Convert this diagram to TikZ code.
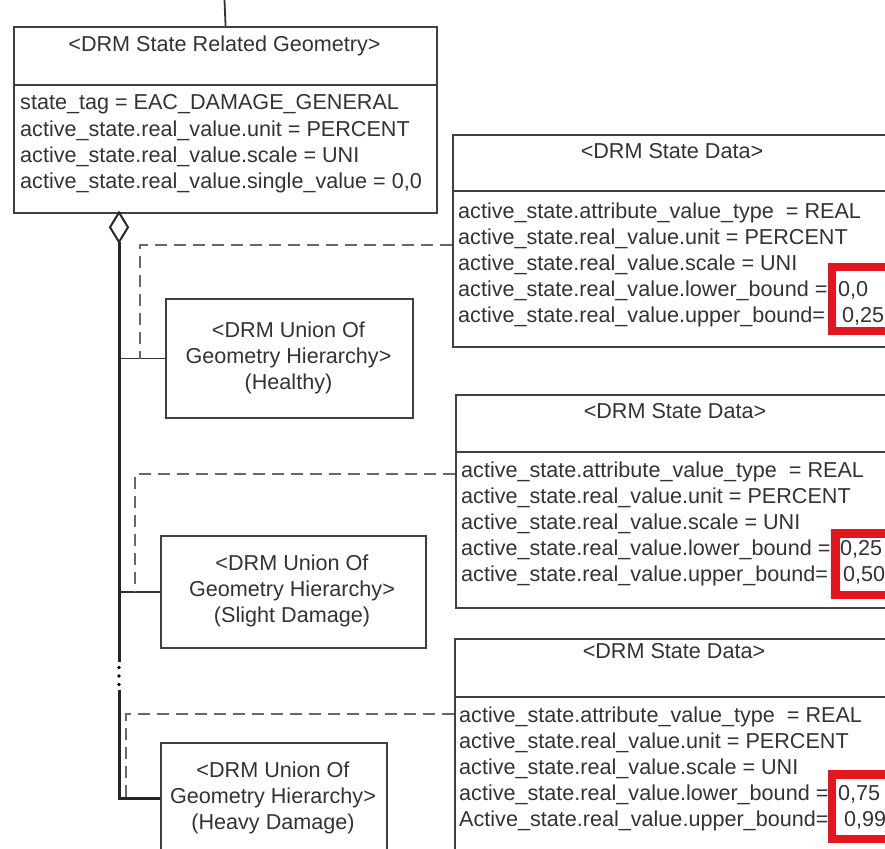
\documentclass[tikz,border=0pt]{standalone}
\usepackage{fontspec}
\setmainfont{Liberation Sans}
\definecolor{txt}{HTML}{333333}
\definecolor{bord}{HTML}{404040}
\definecolor{dashc}{HTML}{686868}
\definecolor{redbox}{HTML}{E3161F}
\begin{document}
\begin{tikzpicture}[x=1pt,y=-1pt,
  lbl/.style={text=txt, font=\fontsize{21.6}{26}\selectfont, inner sep=0pt, anchor=base west},
  ctr/.style={text=txt, font=\fontsize{21.6}{26}\selectfont, inner sep=0pt, anchor=base},
  classbox/.style={draw=bord, line width=2.1pt, fill=white, inner sep=0pt, anchor=north west},
  sepline/.style={draw=bord, line width=2.1pt},
  spine/.style={draw=black!85, line width=3pt},
  link/.style={draw=black!80, line width=1.8pt},
  dashline/.style={draw=dashc, line width=2.2pt, dash pattern=on 12pt off 7pt},
  hilite/.style={draw=redbox, line width=8.5pt}]
\useasboundingbox (0,0) rectangle (885,848);
\clip (0,0) rectangle (885,848);
\fill[white] (0,0) rectangle (885,848);

% ---- top class box
\node[classbox, minimum width=423, minimum height=186] (srg) at (13,26) {};
\coordinate (topend) at (224.5,0);
\draw[link] (topend) -- (srg.north);
\node[ctr] (srgh) at (224.5,52) {<DRM State Related Geometry>};
\draw[sepline] (13,85) -- (436,85);
\node[lbl] (s1) at (20,110) {state\_tag = EAC\_DAMAGE\_GENERAL};
\node[lbl] (s2) at (20,136) {active\_state.real\_value.unit = PERCENT};
\node[lbl] (s3) at (20,162) {active\_state.real\_value.scale = UNI};
\node[lbl] (s4) at (20,188) {active\_state.real\_value.single\_value = 0,0};

% ---- state data boxes
\node[classbox, minimum width=441, minimum height=212] (sd1) at (452,134) {};
\node[ctr] (sd1h) at (672,158) {<DRM State Data>};
\draw[sepline] (452,191) -- (900,191);
\node[lbl] (a1) at (458,218) {active\_state.attribute\_value\_type~ = REAL};
\node[lbl] (a2) at (458,244) {active\_state.real\_value.unit = PERCENT};
\node[lbl] (a3) at (458,270) {active\_state.real\_value.scale = UNI};
\node[lbl] (a4) at (458,296) {active\_state.real\_value.lower\_bound =};
\node[lbl] (a5) at (458,322) {active\_state.real\_value.upper\_bound=};
\node[lbl] (a4v) at (838,296) {0,0};
\node[lbl] (a5v) at (842,322) {0,25};
\draw[hilite] (832,267) rectangle (900,331);

\node[classbox, minimum width=441, minimum height=213] (sd2) at (455,394) {};
\node[ctr] (sd2h) at (675,418) {<DRM State Data>};
\draw[sepline] (455,452) -- (900,452);
\node[lbl] (b1) at (461,477) {active\_state.attribute\_value\_type~ = REAL};
\node[lbl] (b2) at (461,503) {active\_state.real\_value.unit = PERCENT};
\node[lbl] (b3) at (461,529) {active\_state.real\_value.scale = UNI};
\node[lbl] (b4) at (461,555) {active\_state.real\_value.lower\_bound =};
\node[lbl] (b5) at (461,581) {active\_state.real\_value.upper\_bound=};
\node[lbl] (b4v) at (840,555) {0,25};
\node[lbl] (b5v) at (843,581) {0,50};
\draw[hilite] (835.5,533.5) rectangle (900,595);

\node[classbox, minimum width=441, minimum height=230] (sd3) at (454,638) {};
\node[ctr] (sd3h) at (674,658) {<DRM State Data>};
\draw[sepline] (454,697) -- (900,697);
\node[lbl] (c1) at (459,722) {active\_state.attribute\_value\_type~ = REAL};
\node[lbl] (c2) at (459,748) {active\_state.real\_value.unit = PERCENT};
\node[lbl] (c3) at (459,774) {active\_state.real\_value.scale = UNI};
\node[lbl] (c4) at (459,800) {active\_state.real\_value.lower\_bound =};
\node[lbl] (c5) at (459,826) {Active\_state.real\_value.upper\_bound=};
\node[lbl] (c4v) at (838,800) {0,75};
\node[lbl] (c5v) at (844,826) {0,99};
\draw[hilite] (832,774.5) rectangle (900,839);

% ---- union boxes
\node[classbox, minimum width=247, minimum height=119] (uA) at (165,298) {};
\node[ctr] at (288.5,337) {<DRM Union Of};
\node[ctr] at (288.5,363) {Geometry Hierarchy>};
\node[ctr] at (288.5,389) {(Healthy)};

\node[classbox, minimum width=265, minimum height=112] (uB) at (160,535) {};
\node[ctr] at (292,570) {<DRM Union Of};
\node[ctr] at (292,596) {Geometry Hierarchy>};
\node[ctr] at (292,622) {(Slight Damage)};

\node[classbox, minimum width=226, minimum height=110] (uC) at (160,742) {};
\node[ctr] at (273,777) {<DRM Union Of};
\node[ctr] at (273,803) {Geometry Hierarchy>};
\node[ctr] at (273,829) {(Heavy Damage)};

% ---- aggregation spine
\coordinate (dtop) at (119,212.5);
\coordinate (dbot) at (119,242);
\draw[draw=black!85, line width=2pt, fill=white, line join=miter]
  (dtop) -- (128,227.25) -- (dbot) -- (110,227.25) -- cycle;
\coordinate (gapA) at (119,662);
\coordinate (gapB) at (119,690);
\draw[spine] (dbot) -- (gapA);
\fill[black] (119,667.5) circle (1.8) (119,676) circle (1.8) (119,684.5) circle (1.8);
\draw[spine] (gapB) |- (uC.west);
\draw[link] (uA.west) -- (uA.west -| dbot);
\draw[link] (uB.west) -- (uB.west -| dbot);

% ---- dashed dependencies
\coordinate (k1) at (140,245);
\coordinate (k2) at (135,474);
\coordinate (k3) at (126,714);
\draw[dashline] (k1 -| sd1.west) -- (k1) -- (k1 |- uA.west);
\draw[dashline] (k2 -| sd2.west) -- (k2) -- (k2 |- uB.west);
\draw[dashline] (k3 -| sd3.west) -- (k3) -- (k3 |- uC.west);
\end{tikzpicture}
\end{document}
